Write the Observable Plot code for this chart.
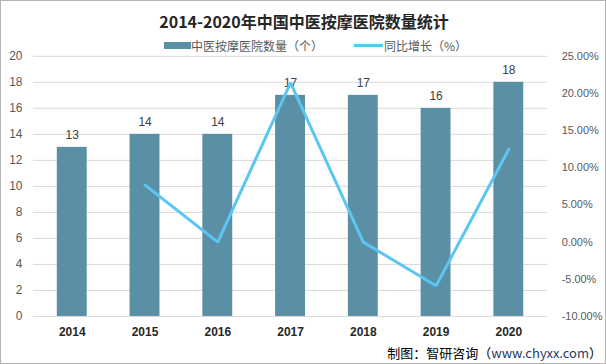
<!DOCTYPE html>
<html>
<head>
<meta charset="utf-8">
<script src="https://cdn.jsdelivr.net/npm/d3@7"></script>
<script src="https://cdn.jsdelivr.net/npm/@observablehq/plot@0.6"></script>
<style>
  body { margin: 0; background: #fff; }
  #chart { position: relative; width: 606px; height: 364px; box-sizing: border-box; border: 1px solid #b4b4b4; background: #fff; overflow: hidden; font-family: "Noto Sans CJK SC", "Liberation Sans", sans-serif; }
  #chart svg { position: absolute; left: -1px; top: -1px; }
  .title { position: absolute; left: 0; width: 606px; top: 9px; text-align: center; font-size: 16px; font-weight: bold; color: #262626; line-height: 22px; }
  .leg { position: absolute; top: 36px; font-size: 12px; color: #595959; line-height: 18px; white-space: nowrap; }
  .sw { position: absolute; }
  .caption { position: absolute; right: 3px; top: 343px; font-size: 13px; color: #000; line-height: 18px; white-space: nowrap; }
  .caption span { color: #1f3864; }
</style>
</head>
<body>
<div id="chart">
  <div class="title" id="title"></div>
  <div class="sw" id="sw1" style="left:163px;top:41px;width:27px;height:7px;"></div>
  <div class="leg" id="leg1" style="left:190px;"></div>
  <div class="sw" id="sw2" style="left:353px;top:43px;width:29px;height:3px;"></div>
  <div class="leg" id="leg2" style="left:383px;"></div>
  <div class="caption" id="caption"></div>
</div>
<script>
const titleText = "2014-2020年中国中医按摩医院数量统计";
const seriesBarName = "中医按摩医院数量（个）";
const seriesLineName = "同比增长（%）";
const captionText = "制图：智研咨询（";
const captionUrl = "www.chyxx.com";
const captionEnd = "）";

const years = ["2014", "2015", "2016", "2017", "2018", "2019", "2020"];
const counts = [13, 14, 14, 17, 17, 16, 18];
const growthYears = ["2015", "2016", "2017", "2018", "2019", "2020"];
const growth = [7.69, 0, 21.43, 0, -5.88, 12.5];

const leftTicks = [0, 2, 4, 6, 8, 10, 12, 14, 16, 18, 20];
const rightTicks = [-10, -5, 0, 5, 10, 15, 20, 25];
const rightTickLabels = ["-10.00%", "-5.00%", "0.00%", "5.00%", "10.00%", "15.00%", "20.00%", "25.00%"];

const barColor = "#5b8fa6";
const lineColor = "#5cc6f2";

// map percent onto the count axis (left 0..20 ↔ right -10%..25%)
const pctToY = p => (p - rightTicks[0]) / (rightTicks[rightTicks.length - 1] - rightTicks[0]) * leftTicks[leftTicks.length - 1];

const barData = years.map((y, i) => ({year: y, count: counts[i]}));
const lineData = growthYears.map((y, i) => ({year: y, v: pctToY(growth[i])}));

document.getElementById("title").textContent = titleText;
document.getElementById("leg1").textContent = seriesBarName;
document.getElementById("leg2").textContent = seriesLineName;
document.getElementById("sw1").style.background = barColor;
document.getElementById("sw2").style.background = lineColor;
const cap = document.getElementById("caption");
cap.append(captionText);
const s = document.createElement("span"); s.textContent = captionUrl; cap.append(s);
cap.append(captionEnd);

const font = "'Liberation Sans', 'Noto Sans CJK SC', sans-serif";

const chart = Plot.plot({
  width: 606,
  height: 364,
  marginTop: 56,
  marginBottom: 47,
  marginLeft: 33,
  marginRight: 57,
  style: {fontFamily: font, background: "transparent", overflow: "visible"},
  x: {type: "band", domain: years, paddingInner: 0.59, paddingOuter: 0.295, label: null},
  y: {domain: [0, 20], label: null},
  marks: [
    Plot.gridY(leftTicks, {stroke: "#d9d9d9", strokeOpacity: 1, strokeWidth: 1}),
    Plot.barY(barData, {x: "year", y: "count", fill: barColor}),
    Plot.text(barData, {x: "year", y: "count", text: d => String(d.count), dy: -12, fontSize: 12, fill: "#404040"}),
    Plot.lineY(lineData, {x: "year", y: "v", stroke: lineColor, strokeWidth: 3, strokeLinejoin: "miter"}),
    Plot.axisY(leftTicks, {anchor: "left", tickSize: 0, tickPadding: 11, fontSize: 12, fill: "#595959", label: null}),
    Plot.axisY(rightTicks.map(pctToY), {anchor: "right", tickSize: 0, tickPadding: 14, fontSize: 11, fill: "#595959", label: null, textAnchor: "start", tickFormat: (d, i) => rightTickLabels[i]}),
    Plot.axisX({tickSize: 0, tickPadding: 11, fontSize: 12, fontWeight: "bold", fill: "#262626", label: null})
  ]
});
document.getElementById("chart").prepend(chart);
</script>
</body>
</html>
